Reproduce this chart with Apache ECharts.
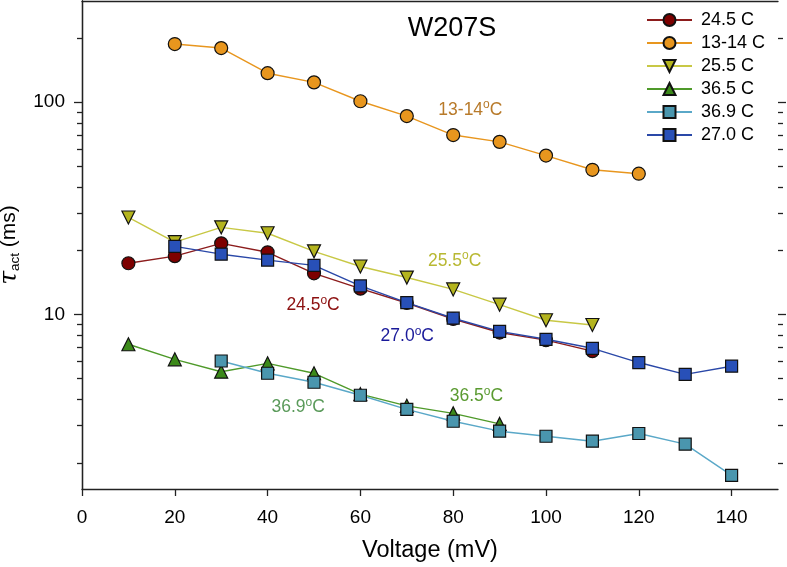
<!DOCTYPE html>
<html><head><meta charset="utf-8">
<script src="https://cdn.jsdelivr.net/npm/echarts@6/dist/echarts.min.js"></script>
<style>html,body{margin:0;padding:0;background:#fff}#c{width:787px;height:567px}</style>
</head><body><div id="c"></div>
<script>
// ---- data ----
const seriesNames = ['24.5 C', '13-14 C', '25.5 C', '36.5 C', '36.9 C', '27.0 C'];
const volt245 = [10, 20, 30, 40, 50, 60, 70, 80, 90, 100, 110];
const tau245 = [17.4, 18.8, 21.6, 19.6, 15.6, 13.2, 11.3, 9.5, 8.2, 7.55, 6.7];
const volt1314 = [20, 30, 40, 50, 60, 70, 80, 90, 100, 110, 120];
const tau1314 = [188, 180, 137, 124, 101, 86, 70, 65, 56, 48, 46];
const volt255 = [10, 20, 30, 40, 50, 60, 70, 80, 90, 100, 110];
const tau255 = [28.6, 21.9, 25.7, 24.1, 19.8, 16.8, 14.9, 13.1, 11.1, 9.37, 8.9];
const volt365 = [10, 20, 30, 40, 50, 60, 70, 80, 90];
const tau365 = [7.22, 6.13, 5.36, 5.87, 5.27, 4.2, 3.7, 3.41, 3.04];
const volt369 = [30, 40, 50, 60, 70, 80, 90, 100, 110, 120, 130, 140];
const tau369 = [6.02, 5.27, 4.78, 4.15, 3.56, 3.13, 2.81, 2.66, 2.52, 2.74, 2.44, 1.74];
const volt270 = [20, 30, 40, 50, 60, 70, 80, 90, 100, 110, 120, 130, 140];
const tau270 = [20.9, 19.2, 18.0, 17.0, 13.6, 11.35, 9.58, 8.31, 7.62, 6.91, 5.92, 5.21, 5.69];
const yMajorTicks = [10, 100];
const yMinorTicks = [2, 3, 4, 5, 6, 7, 8, 9, 20, 30, 40, 50, 60, 70, 80, 90, 200];
const annotLabels = ['13-14', '25.5', '24.5', '27.0', '36.5', '36.9'];
const annotAt = [[83.7, 92.7], [80.3, 18.0], [49.8, 11.1], [70.1, 7.96], [85, 4.15], [46.6, 3.68]];

// ---- styles ----
const FONT = 'Liberation Sans, Arial, sans-serif';
const lineColors = ['#8c1c1c', '#e8961e', '#c8c845', '#4f9a2a', '#5aa8c8', '#2a48a8'];
const fillColors = ['#7d0000', '#e8961e', '#b4b41e', '#3c8a1a', '#4a96ae', '#2850b8'];
const symbols = ['circle', 'circle', 'triangle', 'triangle', 'rect', 'rect'];
const symbolSizes = [13, 13, 13, 13, 12, 12];
const symbolRot = [0, 0, 180, 0, 0, 0];
const annotColors = ['#b87a2a', '#b8b832', '#8c1010', '#1a1a9a', '#5a9a30', '#5a9a5a'];
const annotSeries = [1, 2, 0, 5, 3, 4];

const xs = [volt245, volt1314, volt255, volt365, volt369, volt270];
const ys = [tau245, tau1314, tau255, tau365, tau369, tau270];

const series = seriesNames.map((name, i) => ({
  name, type: 'line',
  data: xs[i].map((x, k) => [x, ys[i][k]]),
  symbol: symbols[i], symbolSize: symbolSizes[i], symbolRotate: symbolRot[i],
  showAllSymbol: true,
  lineStyle: { color: lineColors[i], width: 1.4 },
  itemStyle: { color: fillColors[i], borderColor: '#111', borderWidth: 1.2 },
  emphasis: { disabled: true },
  z: 3 + i
}));

annotLabels.forEach((lab, j) => {
  const si = annotSeries[j];
  series[si].markPoint = {
    silent: true, symbol: 'circle', symbolSize: 0,
    data: [{ coord: annotAt[j] }],
    label: {
      show: true, position: 'inside',
      formatter: '{a|' + lab + '}{s|o}{a|C}',
      rich: {
        a: { fontFamily: FONT, fontSize: 17.5, color: annotColors[j], lineHeight: 20, verticalAlign: 'bottom' },
        s: { fontFamily: FONT, fontSize: 12, color: annotColors[j], lineHeight: 20, verticalAlign: 'top' }
      }
    }
  };
});

series.push({
  type: 'custom', silent: true, clip: false, z: 10,
  data: yMinorTicks.map(v => [0, v, 5]).concat(yMajorTicks.map(v => [0, v, 8])),
  renderItem(params, api) {
    const v = api.value(1), len = api.value(2);
    const p = api.coord([0, v]);
    const y = Math.round(p[1]) + 0.5;
    const cs = params.coordSys;
    const st = { stroke: '#222', lineWidth: 1.3 };
    return { type: 'group', children: [
      { type: 'line', shape: { x1: cs.x - len, y1: y, x2: cs.x, y2: y }, style: st },
      { type: 'line', shape: { x1: cs.x + cs.width, y1: y, x2: cs.x + cs.width + len, y2: y }, style: st }
    ]};
  }
});

const axisLine = { show: true, lineStyle: { color: '#222', width: 1.3 } };

const option = {
  animation: false,
  backgroundColor: '#fff',
  title: {
    text: 'W207S', left: 447, top: 10, textAlign: 'center',
    textStyle: { fontFamily: FONT, fontSize: 27, fontWeight: 'normal', color: '#000' }
  },
  legend: {
    orient: 'vertical', left: 646, top: 11, padding: 0,
    data: seriesNames,
    itemWidth: 45, itemHeight: 15, itemGap: 5,
    textStyle: { fontFamily: FONT, fontSize: 18, color: '#000', padding: [0, 0, 0, 4] },
    selectedMode: false
  },
  grid: { left: 82, right: 9, top: 1, bottom: 78, containLabel: false, outerBoundsMode: 'none' },
  xAxis: [{
    type: 'value', min: 0, max: 150, interval: 20,
    name: 'Voltage (mV)', nameLocation: 'middle', nameGap: 50,
    nameTextStyle: { fontFamily: FONT, fontSize: 23.5, color: '#000' },
    axisLine,
    axisTick: { show: true, inside: false, length: 7, lineStyle: { color: '#222', width: 1.3 } },
    axisLabel: { fontFamily: FONT, fontSize: 19, color: '#000', margin: 19, showMaxLabel: false,
      formatter: v => (v <= 140 ? String(v) : '') },
    splitLine: { show: false }
  }, {
    type: 'value', min: 0, max: 150, position: 'top',
    axisLine, axisTick: { show: false }, axisLabel: { show: false }, splitLine: { show: false }
  }],
  yAxis: [{
    type: 'log', logBase: 10, min: 1.5, max: 300,
    name: '{t|τ}{b|act}{n| (ms)}', nameLocation: 'middle', nameGap: 56, nameRotate: 90,
    nameTextStyle: {
      rich: {
        t: { fontFamily: 'DejaVu Serif, serif', fontStyle: 'italic', fontSize: 25, color: '#000', lineHeight: 26, verticalAlign: 'middle' },
        b: { fontFamily: FONT, fontSize: 13.5, color: '#000', lineHeight: 26, verticalAlign: 'bottom' },
        n: { fontFamily: FONT, fontSize: 21, color: '#000', lineHeight: 26, verticalAlign: 'middle' }
      }
    },
    axisLine,
    axisTick: { show: false },
    axisLabel: { fontFamily: FONT, fontSize: 19, color: '#000', margin: 17, showMinLabel: false, showMaxLabel: false,
      formatter: v => (yMajorTicks.indexOf(Math.round(v)) >= 0 ? String(Math.round(v)) : '') },
    splitLine: { show: false }, minorTick: { show: false }
  }, {
    type: 'log', logBase: 10, min: 1.5, max: 300, position: 'right',
    axisLine, axisTick: { show: false }, axisLabel: { show: false }, splitLine: { show: false }
  }],
  series
};

const chart = echarts.init(document.getElementById('c'), null, { renderer: 'canvas' });
chart.setOption(option);
</script>
</body></html>
